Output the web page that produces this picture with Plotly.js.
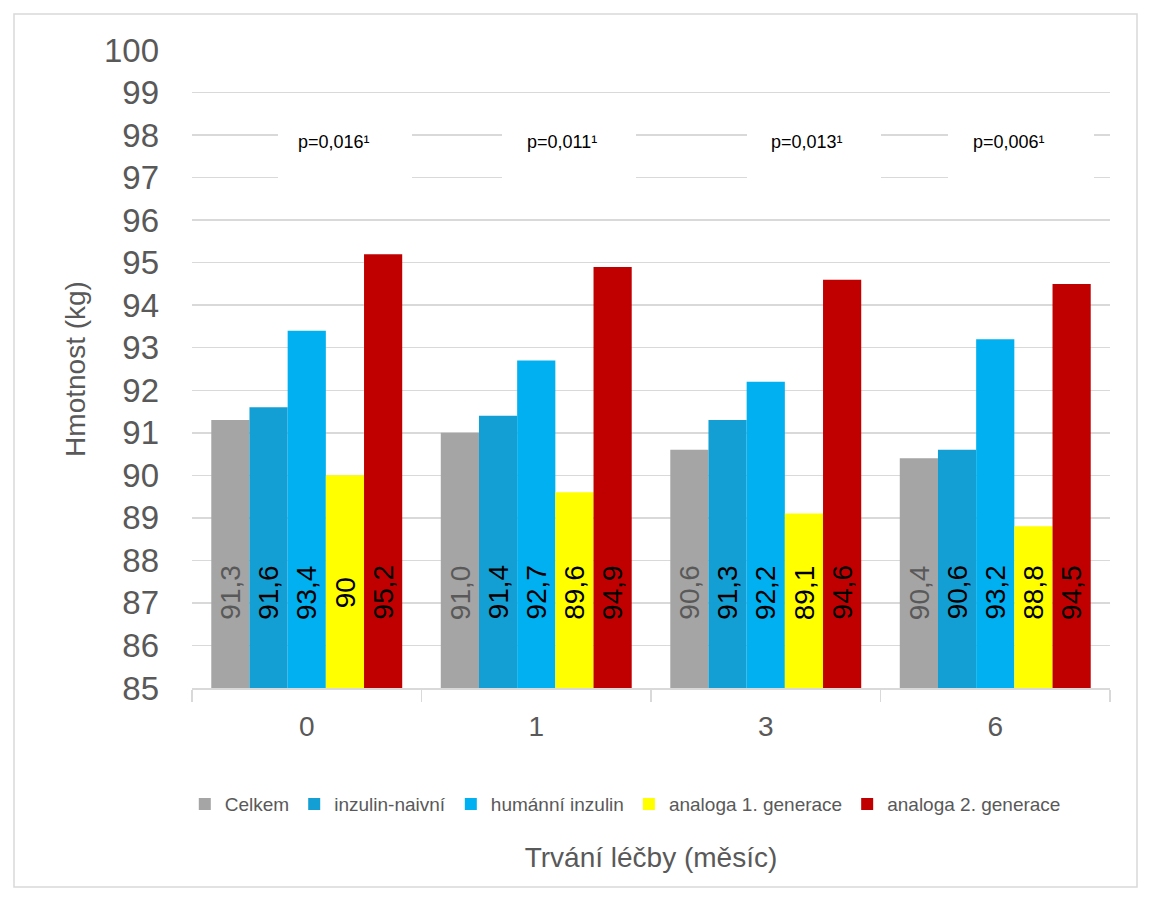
<!DOCTYPE html>
<html>
<head>
<meta charset="utf-8">
<script src="https://cdn.plot.ly/plotly-3.0.1.min.js"></script>
<style>
html,body{margin:0;padding:0;background:#fff;}
#chart{width:1151px;height:902px;}
</style>
</head>
<body>
<div id="chart"></div>
<script>
// ---- data ----
const categories = ["0", "1", "3", "6"];
const seriesNames = ["Celkem", "inzulin-naivní", "humánní inzulin", "analoga 1. generace", "analoga 2. generace"];
const celkem = [91.3, 91.0, 90.6, 90.4];
const inzulinNaivni = [91.6, 91.4, 91.3, 90.6];
const humanniInzulin = [93.4, 92.7, 92.2, 93.2];
const analoga1 = [90.0, 89.6, 89.1, 88.8];
const analoga2 = [95.2, 94.9, 94.6, 94.5];
const labelCelkem = ["91,3", "91,0", "90,6", "90,4"];
const labelNaivni = ["91,6", "91,4", "91,3", "90,6"];
const labelHumanni = ["93,4", "92,7", "92,2", "93,2"];
const labelAnaloga1 = ["90", "89,6", "89,1", "88,8"];
const labelAnaloga2 = ["95,2", "94,9", "94,6", "94,5"];
const pValues = ["p=0,016¹", "p=0,011¹", "p=0,013¹", "p=0,006¹"];
const yTicks = [85, 86, 87, 88, 89, 90, 91, 92, 93, 94, 95, 96, 97, 98, 99, 100];

// ---- styles ----
const colors = ["#a5a5a5", "#139fd4", "#00b0f0", "#ffff00", "#c00000"];
const labelColors = ["#595959", "#000000", "#000000", "#000000", "#000000"];
const allValues = [celkem, inzulinNaivni, humanniInzulin, analoga1, analoga2];
const allLabels = [labelCelkem, labelNaivni, labelHumanni, labelAnaloga1, labelAnaloga2];
const bargap = 0.168;
const barW = (1 - bargap) / seriesNames.length;

const traces = seriesNames.map((name, k) => ({
  type: "bar",
  name: name,
  x: categories,
  y: allValues[k].map(v => v - 85),
  base: 85,
  marker: {color: colors[k], line: {width: 0}},
  hoverinfo: "skip"
}));

const annotations = [];
seriesNames.forEach((name, k) => {
  categories.forEach((c, i) => {
    annotations.push({
      x: i + (k - 2) * barW,
      y: 87.25,
      xref: "x", yref: "y",
      text: allLabels[k][i],
      textangle: -90,
      showarrow: false,
      font: {family: "Liberation Sans, Arial, sans-serif", size: 28, color: labelColors[k]},
      xanchor: "center", yanchor: "middle"
    });
  });
});

const pOffsets = [0.12, 0.11, 0.18, 0.06];
const boxes = [[278, 412], [502, 636], [747, 881], [948, 1094]];
const shapes = [];
const pxPerCat = 918 / 4;
boxes.forEach(b => {
  shapes.push({
    type: "rect", xref: "x", yref: "y", layer: "between",
    x0: (b[0] - 192) / pxPerCat - 0.5, x1: (b[1] - 192) / pxPerCat - 0.5,
    y0: 96.92, y1: 98.35,
    fillcolor: "#ffffff", line: {width: 0}
  });
});
pValues.forEach((p, i) => {
  annotations.push({
    x: i + pOffsets[i], y: 97.84, xref: "x", yref: "y",
    text: p, showarrow: false,
    font: {family: "Liberation Sans, Arial, sans-serif", size: 18, color: "#000000"},
    xanchor: "center", yanchor: "middle"
  });
});
// outer border
shapes.push({
  type: "rect", xref: "paper", yref: "paper",
  x0: (14 - 192) / 918, x1: (1137 - 192) / 918,
  y0: (688 - 887) / 638, y1: (688 - 14) / 638,
  line: {color: "#d9d9d9", width: 1.5}, fillcolor: "rgba(0,0,0,0)"
});

const layout = {
  width: 1151, height: 902,
  margin: {l: 192, r: 41, t: 50, b: 214},
  paper_bgcolor: "#ffffff", plot_bgcolor: "#ffffff",
  barmode: "group", bargap: bargap, bargroupgap: 0,
  font: {family: "Liberation Sans, Arial, sans-serif", color: "#595959"},
  showlegend: true,
  legend: {
    orientation: "h", x: 0.472, xanchor: "center", y: -0.182, yanchor: "middle",
    font: {family: "Liberation Sans Narrow, Liberation Sans, Arial, sans-serif", size: 19, color: "#595959"},
    itemwidth: 30, traceorder: "normal"
  },
  xaxis: {
    type: "category",
    tickson: "boundaries", ticks: "outside", ticklen: 12, tickcolor: "#d9d9d9", tickwidth: 1.5,
    showline: true, linecolor: "#d9d9d9", linewidth: 1.5,
    showgrid: false,
    tickfont: {size: 28, color: "#595959"},
    ticklabelstandoff: 13,
    title: {text: "Trvání léčby (měsíc)", font: {size: 28, color: "#595959"}, standoff: 106},
    automargin: false
  },
  yaxis: {
    range: [85, 100],
    tickvals: yTicks,
    ticktext: yTicks.map(String),
    showgrid: true, gridcolor: "#d9d9d9", gridwidth: 1.5,
    zeroline: false, showline: false, ticks: "",
    tickfont: {size: 33, color: "#595959"},
    ticklabelstandoff: 32,
    title: {text: "Hmotnost (kg)", font: {size: 28, color: "#595959"}, standoff: 10},
    automargin: false
  },
  shapes: shapes,
  annotations: annotations
};

Plotly.newPlot("chart", traces, layout, {displayModeBar: false, staticPlot: true});
</script>
</body>
</html>
